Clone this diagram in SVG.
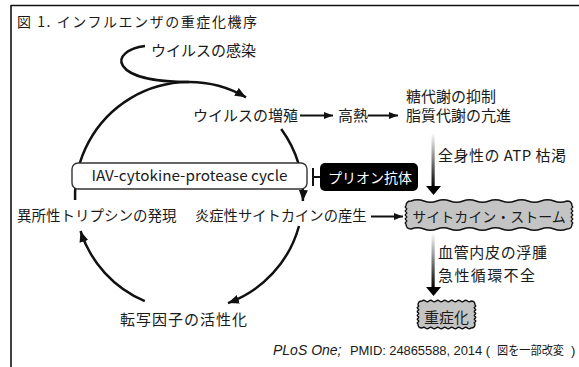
<svg xmlns="http://www.w3.org/2000/svg" width="579" height="367" viewBox="0 0 579 367">
<style>
.t{font-family:"Noto Sans CJK JP","Noto Sans",sans-serif;font-size:15px;fill:#1a1a1a}
.r{font-family:"Liberation Sans",Arial,sans-serif;font-size:13px;fill:#1a1a1a}
.c{fill:none;stroke:#111;stroke-width:2.5}
.s{fill:none;stroke:#111;stroke-width:2}
.w{fill:#c4c4c4;stroke:#111;stroke-width:1.4}
</style>
<defs>
<marker id="ah" markerUnits="userSpaceOnUse" markerWidth="12" markerHeight="10" refX="11" refY="4.5" orient="auto">
<path d="M0,0 L11,4.5 L0,9 Z" fill="#111"/>
</marker>
<marker id="as" markerUnits="userSpaceOnUse" markerWidth="10" markerHeight="8" refX="9" refY="3.5" orient="auto">
<path d="M0,0 L9,3.5 L0,7 Z" fill="#111"/>
</marker>
<linearGradient id="g" x1="0" y1="0" x2="0" y2="1">
<stop offset="0" stop-color="#fff"/>
<stop offset="1" stop-color="#000"/>
</linearGradient>
</defs>
<rect width="579" height="367" fill="#fff"/>
<path d="M11,5.5 H579 M11,5 V367" stroke="#111" stroke-width="1.6" fill="none"/>
<text class="t" x="17" y="26.5" style="font-size:14px" textLength="240">図 1. インフルエンザの重症化機序</text>

<g id="connectors">
<path class="c" d="M145,46 C128,48 117,57 123,66 C131,78 160,82 189,82"/>
<path class="c" d="M75.1,200 A114,114 0 0 1 246,97.3" marker-end="url(#ah)"/>
<path class="c" d="M281.2,129 A114,114 0 0 1 302.9,201" marker-end="url(#ah)"/>
<path class="c" d="M299,226 A114,114 0 0 1 228,303.1" marker-end="url(#ah)"/>
<path class="c" d="M144.8,301.1 A114,114 0 0 1 80.5,231" marker-end="url(#ah)"/>
<path class="s" d="M300,115.5 H333" marker-end="url(#as)"/>
<path class="s" d="M368,115.5 H398" marker-end="url(#as)"/>
<path class="s" d="M371,216.5 H403" marker-end="url(#as)"/>
<path d="M313,168 V186 M313,177 H320" stroke="#111" stroke-width="2" fill="none"/>
<rect x="431.5" y="133" width="3.2" height="54" fill="url(#g)"/>
<path d="M426,186 H441 L433.5,195 Z" fill="#000"/>
<rect x="431.5" y="233" width="3.2" height="55" fill="url(#g)"/>
<path d="M426,287 H441 L433.5,296 Z" fill="#000"/>
</g>

<g id="infection"><text class="t" x="151" y="56">ウイルスの感染</text></g>
<g id="replication"><text class="t" x="193" y="120.5">ウイルスの増殖</text></g>
<g id="fever"><text class="t" x="338" y="120.5">高熱</text></g>
<g id="metabolism">
<text class="t" x="406" y="101.5">糖代謝の抑制</text>
<text class="t" x="406" y="120.5">脂質代謝の亢進</text>
</g>
<g id="atp"><text class="t" x="438" y="160.5" textLength="128">全身性の ATP 枯渇</text></g>
<g id="cycle">
<rect x="72" y="163" width="235" height="26" rx="6" fill="#fff" stroke="#333" stroke-width="1.4"/>
<text class="t" x="189.5" y="181" text-anchor="middle" style="font-size:14.5px" textLength="196" lengthAdjust="spacingAndGlyphs">IAV-cytokine-protease cycle</text>
</g>
<g id="prion">
<rect x="320" y="163" width="98" height="28" rx="5" fill="#000"/>
<text class="t" x="370" y="182.5" text-anchor="middle" style="font-size:14px;fill:#fff">プリオン抗体</text>
</g>
<g id="trypsin"><text class="t" x="17" y="220.5" style="font-size:14.5px">異所性トリプシンの発現</text></g>
<g id="cytokine"><text class="t" x="195" y="220.5" style="font-size:14.3px">炎症性サイトカインの産生</text></g>
<g id="storm">
<path class="w" d="M411,201 q6.5,-2.5 13,0 t13,0 t13,0 t13,0 t13,0 t13,0 t13,0 t13,0 t13,0 t13,0 t13,0 t13,0 Q572,201 572,206 q1.5,1 0,2 t0,2 t0,2 t0,2 t0,2 t0,2 t0,2 t0,2 t0,2 Q572,229 567,229 q-6.5,2.5 -13,0 t-13,0 t-13,0 t-13,0 t-13,0 t-13,0 t-13,0 t-13,0 t-13,0 t-13,0 t-13,0 t-13,0 Q406,229 406,224 q-1.5,-1 0,-2 t0,-2 t0,-2 t0,-2 t0,-2 t0,-2 t0,-2 t0,-2 t0,-2 Q406,201 411,201 Z"/>
<text class="t" x="489" y="222" text-anchor="middle" style="font-size:14px">サイトカイン・ストーム</text>
</g>
<g id="vascular">
<text class="t" x="438" y="258" textLength="109">血管内皮の浮腫</text>
<text class="t" x="438" y="281" textLength="97">急性循環不全</text>
</g>
<g id="severe">
<path class="w" d="M422,301 q1.75,-1.5 3.5,0 t3.5,0 t3.5,0 t3.5,0 t3.5,0 t3.5,0 t3.5,0 t3.5,0 t3.5,0 t3.5,0 t3.5,0 t3.5,0 t3.5,0 t3.5,0 Q475,301 475,305 q1.5,0.95 0,1.9 t0,1.9 t0,1.9 t0,1.9 t0,1.9 t0,1.9 t0,1.9 t0,1.9 t0,1.9 t0,1.9 Q475,328 471,328 q-1.75,1.5 -3.5,0 t-3.5,0 t-3.5,0 t-3.5,0 t-3.5,0 t-3.5,0 t-3.5,0 t-3.5,0 t-3.5,0 t-3.5,0 t-3.5,0 t-3.5,0 t-3.5,0 t-3.5,0 Q418,328 418,324 q-1.5,-0.95 0,-1.9 t0,-1.9 t0,-1.9 t0,-1.9 t0,-1.9 t0,-1.9 t0,-1.9 t0,-1.9 t0,-1.9 t0,-1.9 Q418,301 422,301 Z"/>
<text class="t" x="446.5" y="323" text-anchor="middle">重症化</text>
</g>
<g id="transcription"><text class="t" x="120" y="324.5" textLength="127">転写因子の活性化</text></g>
<g id="citation">
<text class="r" x="273" y="355" style="font-size:14px;font-style:italic">PLoS One;</text>
<text class="r" x="350" y="355" textLength="140">PMID: 24865588, 2014 (</text>
<text class="t" x="497" y="355" style="font-size:12.5px" textLength="67" lengthAdjust="spacingAndGlyphs">図を一部改変</text>
<text class="r" x="571" y="355">)</text>
</g>
</svg>
